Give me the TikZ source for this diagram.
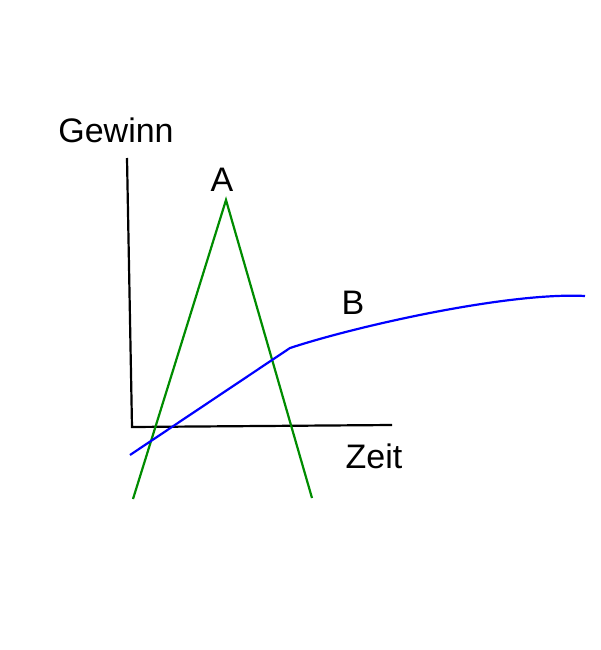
\documentclass[tikz,border=0pt]{standalone}
\usepackage{fontspec}
\setmainfont{Liberation Sans}
\begin{document}
\begin{tikzpicture}[x=1pt,y=-1pt,lbl/.style={font=\fontsize{34}{38}\selectfont,inner sep=0pt},line width=2.2pt]
\useasboundingbox (0,0) rectangle (600,650);
\coordinate (ytop) at (127,158);
\coordinate (o) at (132,427);
\coordinate (xend) at (392,425);
\draw (ytop) -- (o) -- (xend);
\coordinate (g1) at (133,499);
\coordinate (gp) at (226,200);
\coordinate (g2) at (312,498);
\draw[green!55!black] (g1) -- (gp) -- (g2);
\coordinate (b1) at (130,455);
\coordinate (bk) at (290,348);
\coordinate (b2) at (585,296);
\draw[blue] (b1) -- (bk) .. controls (360,325) and (510,292) .. (b2);
\node[lbl] (gew) at (116,130) {Gewinn};
\node[lbl] (a) at (222,180) {A};
\node[lbl] (b) at (353,303) {B};
\node[lbl] (zeit) at (374,456) {Zeit};
\end{tikzpicture}
\end{document}
